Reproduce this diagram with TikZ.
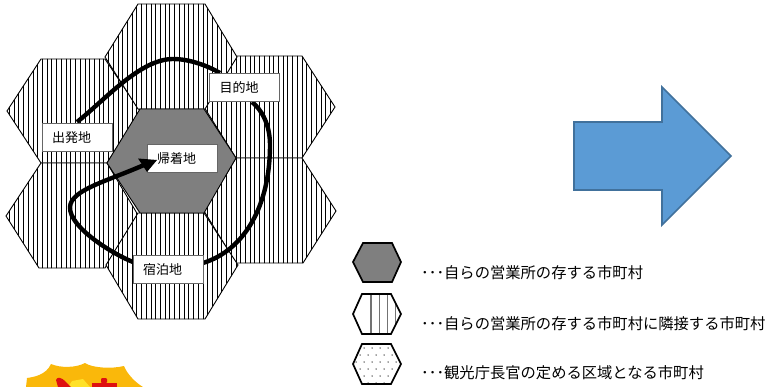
\documentclass[tikz,border=0pt]{standalone}
\usepackage{fontspec}
\newfontfamily\jp{Noto Sans CJK JP}
\definecolor{hexdark}{RGB}{127,127,127}
\definecolor{arrowfill}{RGB}{91,155,213}
\definecolor{arrowline}{RGB}{65,113,156}
\definecolor{burst}{RGB}{250,184,10}
\definecolor{burstred}{RGB}{222,16,16}
\definecolor{burstyel}{RGB}{255,225,40}
\tikzset{
  hexline/.style={draw=black,line width=0.9pt},
  stripe/.style={draw=black,line width=0.9pt},
  labelbox/.style={draw=black!60,line width=0.8pt,fill=white,minimum width=70pt,minimum height=28pt,inner sep=0pt,font=\jp\fontsize{13}{13}\selectfont,text depth=0pt},
  route/.style={draw=black,line width=4.4pt},
  legendhex/.style={draw=black,line width=1.7pt},
  legendtext/.style={anchor=west,inner sep=0pt,font=\jp\fontsize{15.3}{15.3}\selectfont}
}
% striped hexagon: six corner points
\newcommand{\stripedhex}[6]{%
  \fill[white] #1--#2--#3--#4--#5--#6--cycle;
  \begin{scope}
    \clip #1--#2--#3--#4--#5--#6--cycle;
    \foreach \sx in {1,2,...,72}{\draw[stripe] ({\sx*4.72},0)--({\sx*4.72},330);}
  \end{scope}
  \draw[hexline] #1--#2--#3--#4--#5--#6--cycle;
}
\newcommand{\lbl}[1]{#1\rule{11pt}{0pt}}
\begin{document}
\begin{tikzpicture}[x=1pt,y=-1pt]
\useasboundingbox (0,0) rectangle (765,387);
% map
\stripedhex{(41,59)}{(105,59)}{(140,111)}{(107,163)}{(41,163)}{(7,111)}
\stripedhex{(41,163)}{(107,163)}{(138,215)}{(105,268)}{(39,268)}{(6,216)}
\stripedhex{(237,56)}{(302,56)}{(335,107)}{(302,158)}{(236,158)}{(204,107)}
\stripedhex{(236,158)}{(302,158)}{(336,211)}{(303,263)}{(236,263)}{(204,211)}
\stripedhex{(138,4)}{(205,4)}{(237,57)}{(205,109)}{(138,109)}{(105,57)}
\stripedhex{(138,213)}{(204,213)}{(238,265)}{(205,319)}{(138,319)}{(106,265)}
\draw[hexline,fill=hexdark] (140,109)--(204,109)--(236,158)--(204,213)--(140,213)--(107,163)--cycle;
% routes below labels
\coordinate (depout) at (77,122);
\coordinate (dstin) at (220,73);
\coordinate (dstout) at (252,102);
\coordinate (stayin) at (203,263);
\coordinate (stayout) at (133,262);
\coordinate (retin) at (144,165);
\draw[route] (depout) .. controls (105,100) and (140,59) .. (173,59) .. controls (190,59) and (208,66) .. (dstin);
\draw[route] (dstout) .. controls (262,110) and (270,125) .. (270,145) .. controls (270,205) and (245,250) .. (stayin);
\draw[route] (stayout) .. controls (115,255) and (69,228) .. (70,207) .. controls (71,190) and (105,182) .. (retin);
% labels
\node[labelbox] (dep) at (77,137) {\lbl{出発地}};
\node[labelbox] (dst) at (244.5,87.5) {\lbl{目的地}};
\node[labelbox] (ret) at (182,158) {\lbl{帰着地}};
\node[labelbox] (stay) at (168,269.5) {\lbl{宿泊地}};
\fill (157,160) -- (138,158.5) -- (147,172) -- cycle;
% big arrow
\draw[draw=arrowline,line width=1.6pt,fill=arrowfill] (574,122)--(662,122)--(662,87)--(731,156)--(662,225)--(662,190)--(574,190)--cycle;
% legend
\draw[legendhex,fill=hexdark] (363,243)--(392,243)--(401,262)--(392,282)--(363,282)--(353,262)--cycle;
\node[legendtext] (t1) at (421,273) {･･･自らの営業所の存する市町村};
\node[legendtext] (t2) at (421,324) {･･･自らの営業所の存する市町村に隣接する市町村};
\node[legendtext] (t3) at (421,373) {･･･観光庁長官の定める区域となる市町村};
\begin{scope}
\clip (362,294)--(391,294)--(401,314)--(391,334)--(362,334)--(353,314)--cycle;
\foreach \sx in {371,379.3,387.5,395.5}{\draw[draw=black!55,line width=1.4pt] (\sx,290)--(\sx,338);}
\end{scope}
\draw[legendhex] (362,294)--(391,294)--(401,314)--(391,334)--(362,334)--(353,314)--cycle;
\begin{scope}
\clip (362,344)--(391,344)--(401,364)--(391,384)--(362,384)--(353,364)--cycle;
\foreach \dy in {0,1,...,5}{\foreach \dx in {0,1,...,6}{
  \fill[black!75] ({356+\dx*8+mod(\dy,2)*4},{348+\dy*7}) circle (0.75pt);}}
\end{scope}
\draw[legendhex] (362,344)--(391,344)--(401,364)--(391,384)--(362,384)--(353,364)--cycle;
% sticker
\fill[burst] (27,378) .. controls (34,377) and (46,375) .. (51,364) .. controls (60,368) and (76,368) .. (85,363) .. controls (92,368) and (112,369) .. (124,366) .. controls (127,374) and (136,383) .. (143,387) -- (26,387) -- cycle;
\fill[burstyel] (68,387)--(72,381)--(83,379)--(90,387)--cycle;
\fill[burstred] (56,380) .. controls (57,376) and (62,378) .. (65,381) -- (71,387) -- (58,387) -- cycle;
\fill[burstred,rounded corners=1pt] (101,378) rectangle (107,383);
\fill[burstred] (92,382.5) rectangle (117,387);
\end{tikzpicture}
\end{document}
